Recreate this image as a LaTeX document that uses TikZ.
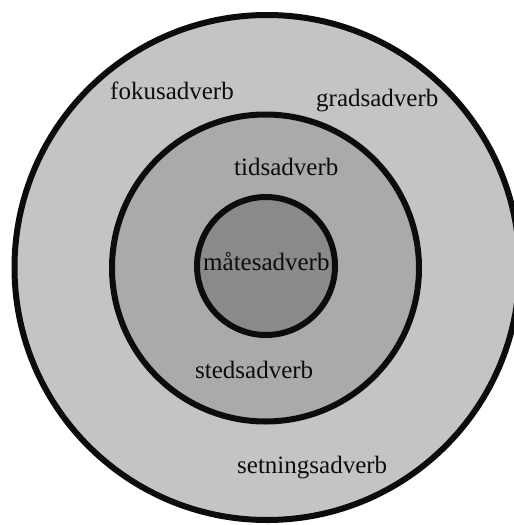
\documentclass[tikz,border=0pt]{standalone}
\usepackage{fontspec}
\setmainfont{Liberation Serif}
\definecolor{ringouter}{RGB}{196,196,196}
\definecolor{ringmiddle}{RGB}{170,170,170}
\definecolor{ringinner}{RGB}{138,138,138}
\definecolor{inkblack}{RGB}{12,12,12}
\begin{document}
\begin{tikzpicture}[x=1pt,y=-1pt,
  ring/.style={circle, draw=inkblack, line width=6pt, inner sep=0pt},
  word/.style={anchor=base west, inner sep=0pt, text=inkblack,
    font=\fontsize{25}{30}\selectfont}]
  \useasboundingbox (0,0) rectangle (514,525);
  \clip (0,0) rectangle (514,525);
  \fill[white] (0,0) rectangle (514,525);
  % three nested rings
  \node[ring, fill=ringouter, minimum size=505pt] (outer) at (267,267.5) {};
  \node[ring, fill=ringmiddle, minimum size=307pt] (middle) at (265.5,268) {};
  \node[ring, fill=ringinner, minimum size=138pt] (inner) at (266,266) {};
  % labels
  \node[word] (fokus) at (110,99) {fokusadverb};
  \node[word] (grads) at (316,106.5) {gradsadverb};
  \node[word] (tids) at (234,175) {tidsadverb};
  \node[word] (maate) at (203,270) {måtesadverb};
  \node[word] (steds) at (195,378) {stedsadverb};
  \node[word] (setning) at (237,473) {setningsadverb};
\end{tikzpicture}
\end{document}
